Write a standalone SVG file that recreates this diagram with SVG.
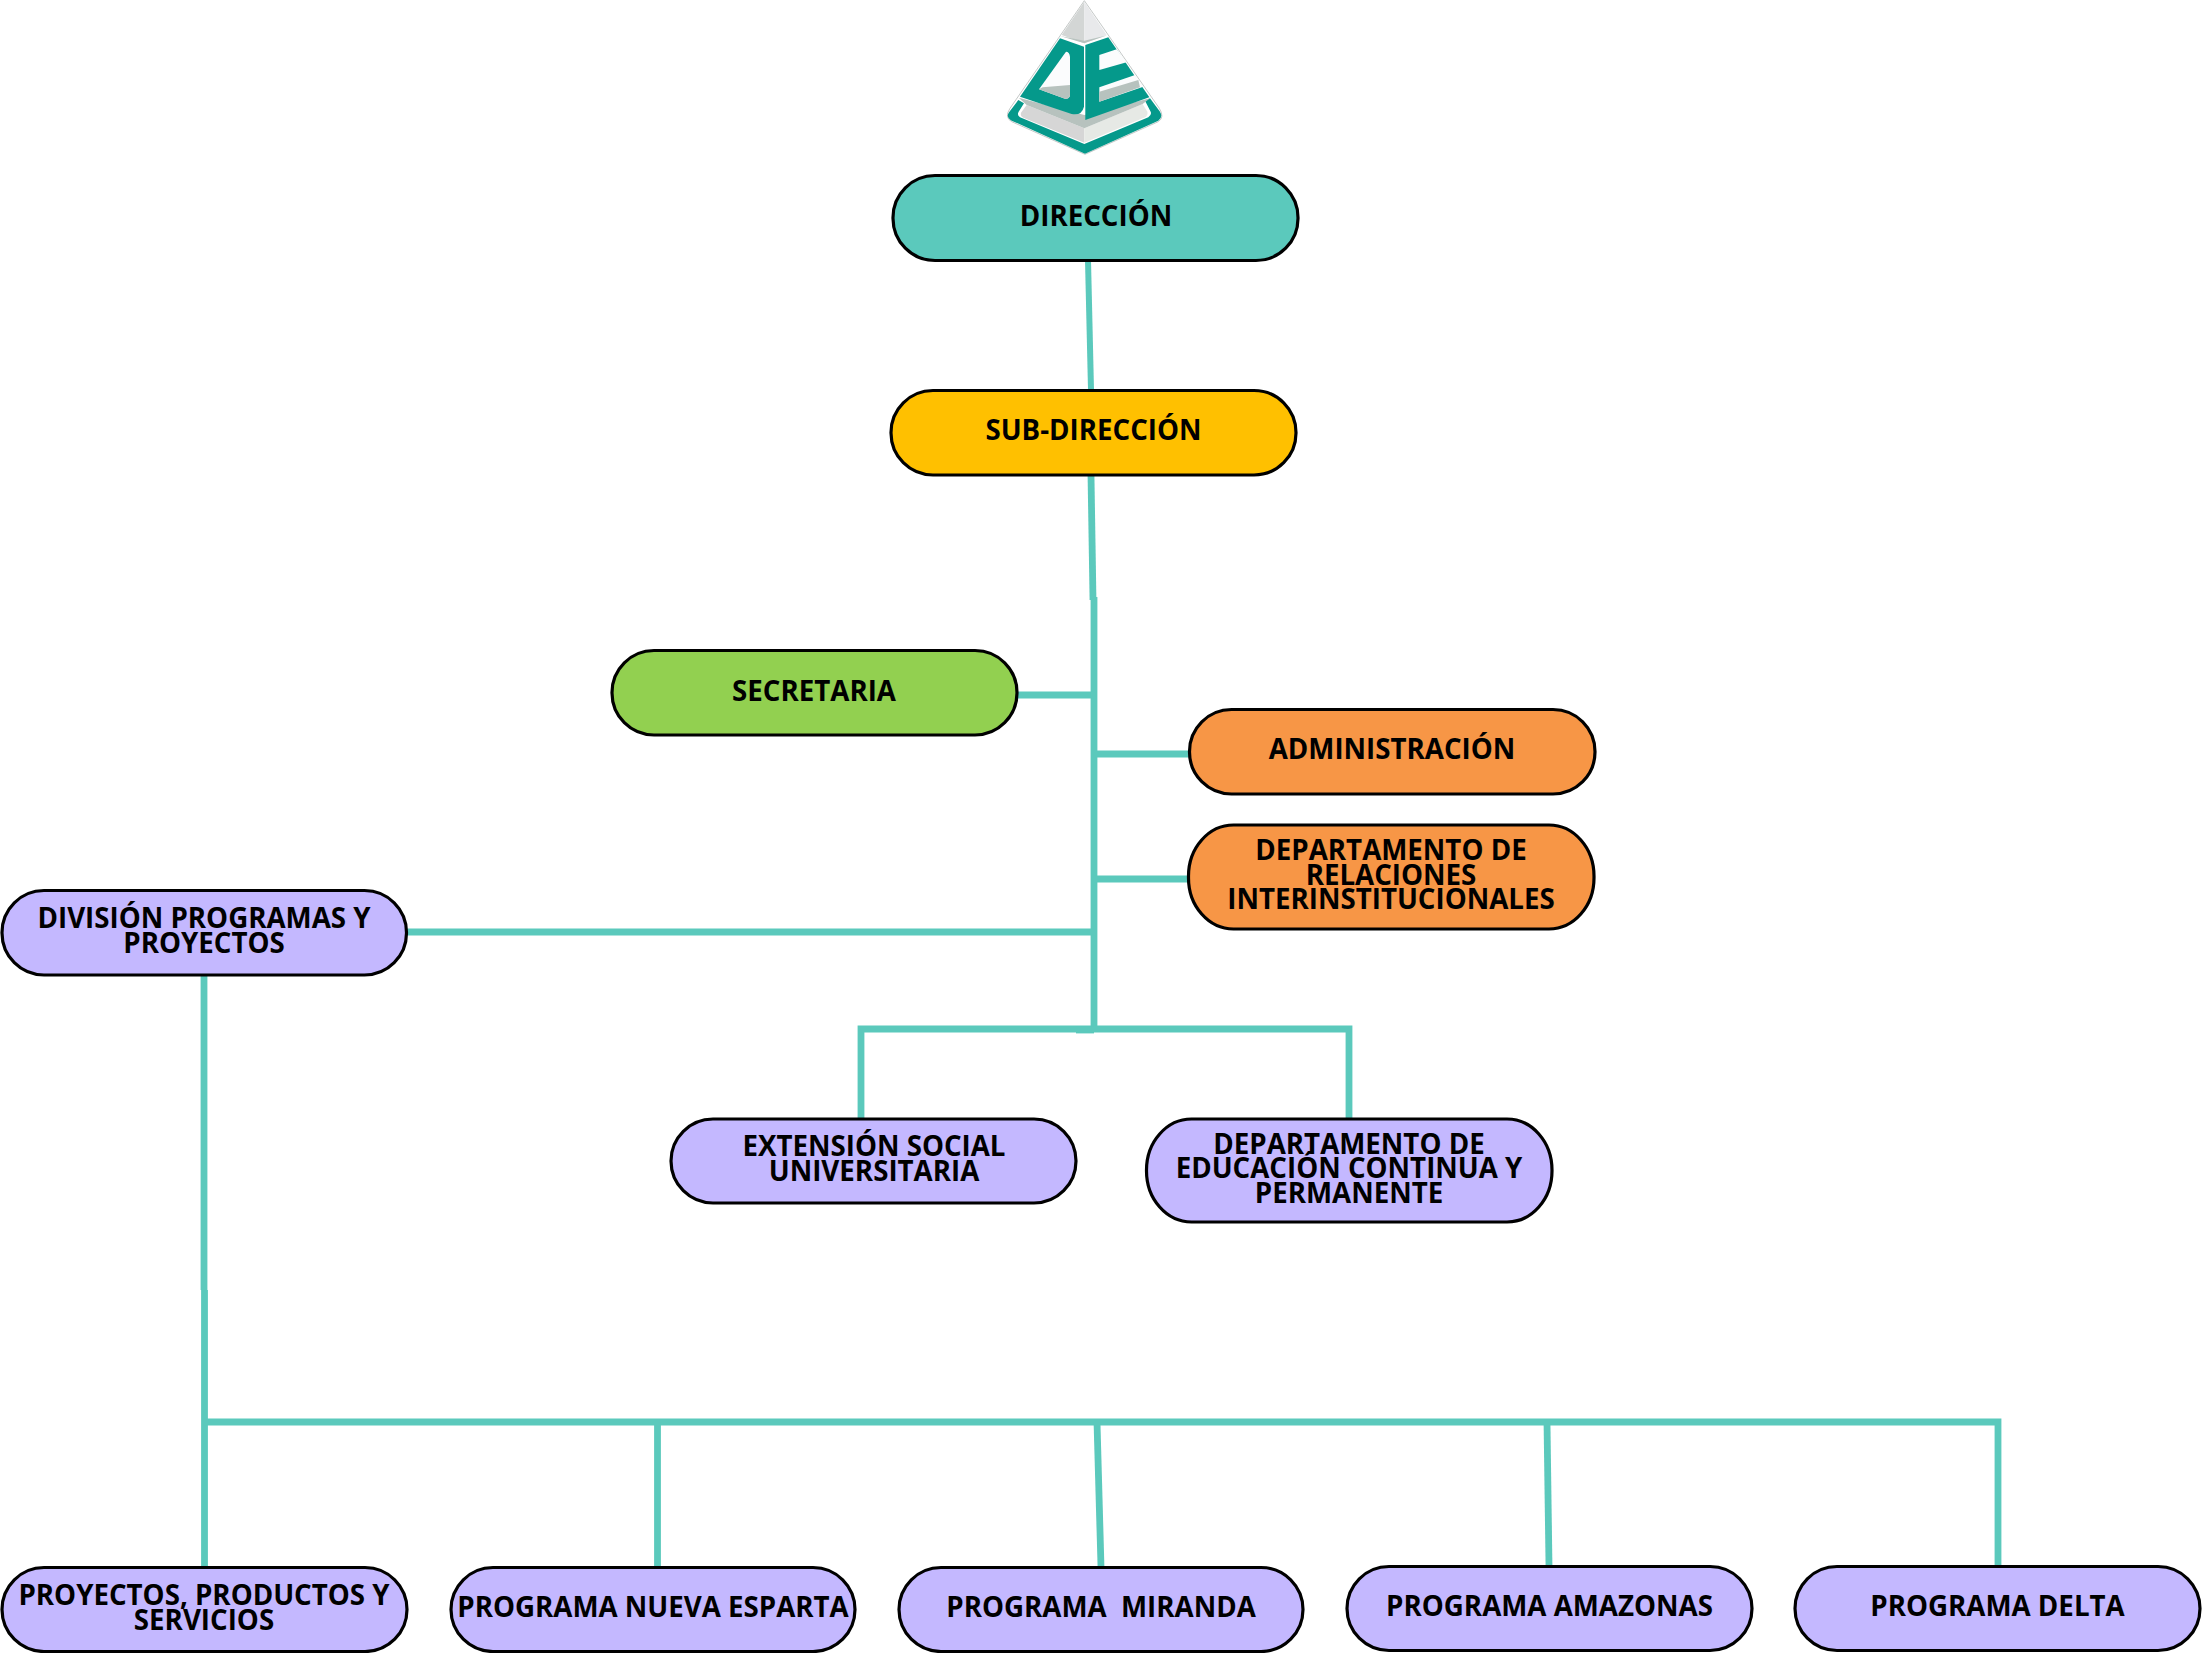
<svg xmlns="http://www.w3.org/2000/svg" width="2202" height="1653" viewBox="0 0 2202 1653">
<style>
.n{stroke:#000;stroke-width:3.2}
.t{font-family:"Open Sans","Liberation Sans",sans-serif;font-weight:700;font-size:27.7px;text-anchor:middle;fill:#000;white-space:pre}
.c{fill:none;stroke:#5BC9BC;stroke-width:6.8}
.thin{stroke-width:6}
</style>
<rect width="2202" height="1653" fill="#fff"/>
<g id="logo" transform="translate(960,0) scale(0.33333)">
<path d="M373,2 L150,325 Q132,352 155,365 L375,463 L595,365 Q615,352 598,325 Z" fill="#fff" stroke="#c4c8c7" stroke-width="3"/>
<path d="M373,5 L305,105 L373,130 Z" fill="#d3d6d5"/>
<path d="M373,5 L440,105 L373,130 Z" fill="#e8e9eb"/>
<path d="M300,108 L373,130 L442,106 L373,122 Z" fill="#b7c2be"/>
<path d="M175,300 L146,338 Q138,352 155,362 L375,461 L595,362 Q610,352 600,335 L570,295 L555,302 L572,335 Q576,345 565,352 L373,432 L180,352 Q170,345 176,335 L192,310 Z" fill="#05998b"/>
<path d="M200,315 L183,338 Q180,348 190,353 L373,428 L373,385 Z" fill="#d6d6d6"/>
<path d="M548,312 L562,335 Q565,345 555,352 L373,428 L373,385 Z" fill="#e6e9e5"/>
<path d="M176,293 L200,315 L373,385 L548,312 L570,295 L373,345 Z" fill="#b7c2be"/>
<path d="M300,115 L372,140 L372,320 Q365,348 335,342 L180,290 Z" fill="#05998b"/>
<path d="M318,155 Q328,155 330,170 L330,285 Q328,298 315,296 L237,268 Z" fill="#fbfcfd"/>
<path d="M248,262 L330,255 L330,285 Q328,298 315,296 L237,268 Z" fill="#b7c2be"/>
<path d="M376,135 L445,112 L568,292 L376,360 Z" fill="#05998b"/>
<path d="M418,165 L470,148 L500,187 L418,210 Z" fill="#fbfcfd"/>
<path d="M418,262 L525,225 L550,260 L418,305 Z" fill="#fbfcfd"/>
<path d="M418,275 L535,240 L540,262 L418,305 Z" fill="#b7c2be"/>
</g>
<g id="connectors">
<path class="c thin" d="M1088,260 L1091,390"/>
<path class="c" d="M1091,475 L1093,600"/>
<path class="c" d="M1094,597 V1030"/>
<path class="c" d="M1017,695 H1094"/>
<path class="c" d="M1094,754 H1189"/>
<path class="c" d="M1094,879 H1188"/>
<path class="c" d="M406,932 H1094"/>
<path class="c" d="M861,1119 V1029 H1349 V1118"/>
<path class="c" d="M1076,1030 H1094"/>
<path class="c" d="M204,975 V1290"/>
<path class="c" d="M204.5,1290 V1567"/>
<path class="c" d="M204,1422 H1998 V1566"/>
<path class="c" d="M657.5,1422 V1567"/>
<path class="c" d="M1097,1422 L1101,1567"/>
<path class="c" d="M1547,1422 L1549,1566"/>
</g>
<g id="direccion"><rect class="n" x="893" y="175.500" width="405" height="85" rx="42" fill="#5BC9BC"/><text class="t" x="1096" y="226.300">DIRECCIÓN</text></g>
<g id="subdireccion"><rect class="n" x="891" y="390.500" width="405" height="84.500" rx="42" fill="#FFC000"/><text class="t" x="1093.500" y="439.700">SUB-DIRECCIÓN</text></g>
<g id="secretaria"><rect class="n" x="612" y="650.500" width="405" height="84.500" rx="42" fill="#92D050"/><text class="t" x="814" y="700.600">SECRETARIA</text></g>
<g id="administracion"><rect class="n" x="1189.500" y="709.500" width="405.500" height="84.500" rx="42" fill="#F79646"/><text class="t" x="1392" y="759">ADMINISTRACIÓN</text></g>
<g id="relaciones"><rect class="n" x="1188.500" y="825" width="405.500" height="104" rx="45" ry="51" fill="#F79646"/><text class="t" x="1391" y="859.700">DEPARTAMENTO DE</text><text class="t" x="1391" y="884.500">RELACIONES</text><text class="t" x="1391" y="908.700">INTERINSTITUCIONALES</text></g>
<g id="division"><rect class="n" x="2" y="890.500" width="404.500" height="84.500" rx="42" fill="#C4B8FF"/><text class="t" x="204" y="928">DIVISIÓN PROGRAMAS Y</text><text class="t" x="204" y="952.600">PROYECTOS</text></g>
<g id="extension"><rect class="n" x="671" y="1119" width="405" height="84" rx="42" fill="#C4B8FF"/><text class="t" x="874" y="1156.300">EXTENSIÓN SOCIAL</text><text class="t" x="874" y="1181.300">UNIVERSITARIA</text></g>
<g id="educacion"><rect class="n" x="1146.500" y="1119" width="405.500" height="103" rx="45" ry="51" fill="#C4B8FF"/><text class="t" x="1349" y="1153.500">DEPARTAMENTO DE</text><text class="t" x="1349" y="1178">EDUCACIÓN CONTINUA Y</text><text class="t" x="1349" y="1203">PERMANENTE</text></g>
<g id="proyectos"><rect class="n" x="2" y="1567.500" width="405" height="84" rx="42" fill="#C4B8FF"/><text class="t" x="204" y="1604.500">PROYECTOS, PRODUCTOS Y</text><text class="t" x="204" y="1629.500">SERVICIOS</text></g>
<g id="nueva-esparta"><rect class="n" x="451" y="1567.500" width="404" height="84" rx="42" fill="#C4B8FF"/><text class="t" x="653" y="1616.800">PROGRAMA NUEVA ESPARTA</text></g>
<g id="miranda"><rect class="n" x="899" y="1567.500" width="404" height="84" rx="42" fill="#C4B8FF"/><text class="t" x="1101" y="1616.800">PROGRAMA  MIRANDA</text></g>
<g id="amazonas"><rect class="n" x="1347" y="1566.500" width="405" height="84" rx="42" fill="#C4B8FF"/><text class="t" x="1549.500" y="1615.800">PROGRAMA AMAZONAS</text></g>
<g id="delta"><rect class="n" x="1795" y="1566.500" width="405" height="84" rx="42" fill="#C4B8FF"/><text class="t" x="1997.500" y="1615.800">PROGRAMA DELTA</text></g>
</svg>
